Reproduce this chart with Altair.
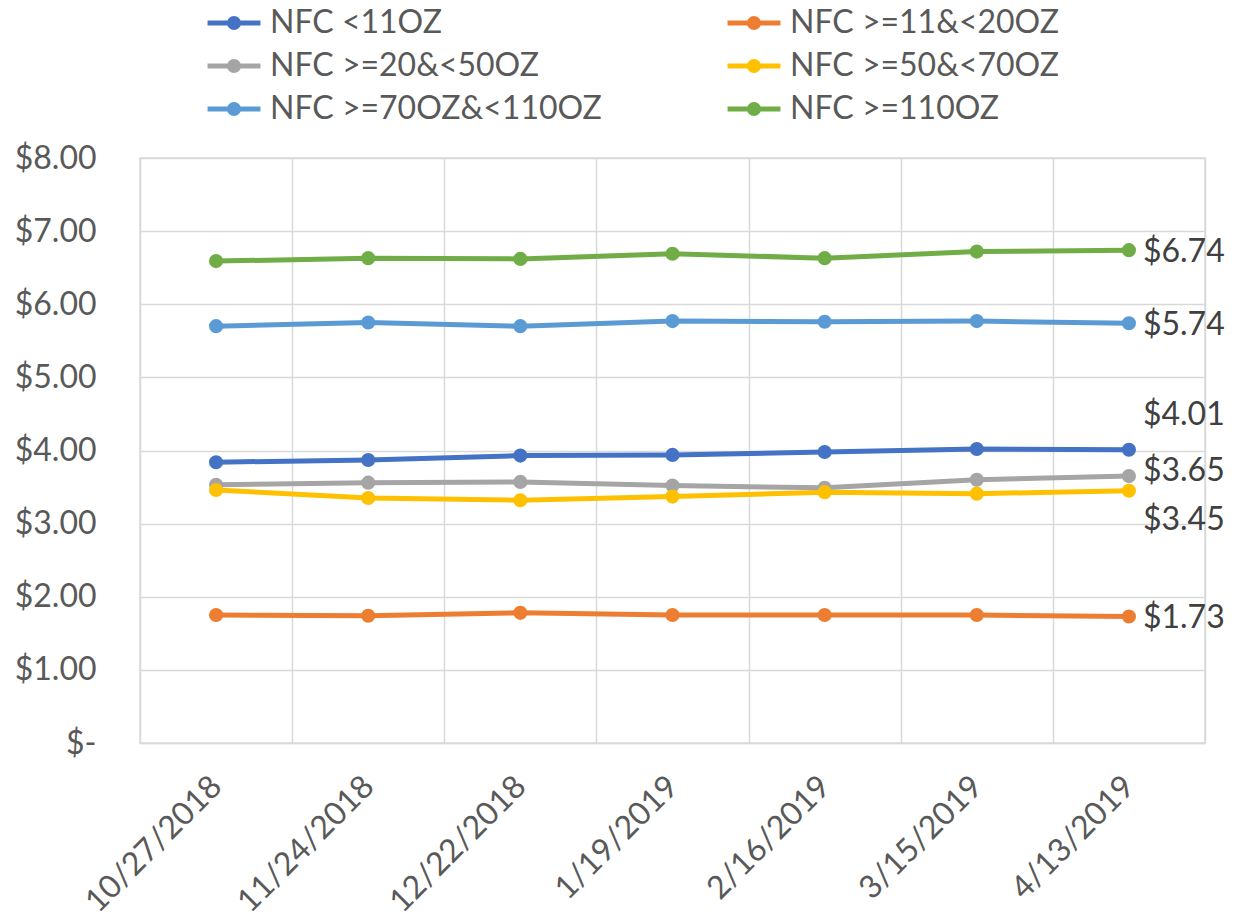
import altair as alt
import pandas as pd

dates = ["10/27/2018", "11/24/2018", "12/22/2018", "1/19/2019", "2/16/2019", "3/15/2019", "4/13/2019"]
series = ["NFC <11OZ", "NFC >=11&<20OZ", "NFC >=20&<50OZ", "NFC >=50&<70OZ", "NFC >=70OZ&<110OZ", "NFC >=110OZ"]
colors = ["#4472C4", "#ED7D31", "#A5A5A5", "#FFC000", "#5B9BD5", "#70AD47"]

nfc_lt11 = [3.84, 3.87, 3.93, 3.94, 3.98, 4.02, 4.01]
nfc_11_20 = [1.75, 1.74, 1.78, 1.75, 1.75, 1.75, 1.73]
nfc_20_50 = [3.53, 3.56, 3.57, 3.52, 3.49, 3.60, 3.65]
nfc_50_70 = [3.46, 3.35, 3.32, 3.37, 3.43, 3.41, 3.45]
nfc_70_110 = [5.70, 5.75, 5.70, 5.77, 5.76, 5.77, 5.74]
nfc_ge110 = [6.59, 6.63, 6.62, 6.69, 6.63, 6.72, 6.74]

values = [nfc_lt11, nfc_11_20, nfc_20_50, nfc_50_70, nfc_70_110, nfc_ge110]
label_pos = ["above", "right", "right_up", "below", "right", "right"]

rows = []
for s, vals, pos in zip(series, values, label_pos):
    for i, (d, v) in enumerate(zip(dates, vals)):
        rows.append({"date": d, "series": s, "price": v,
                     "last": i == len(dates) - 1, "pos": pos,
                     "lbl": "$" + format(v, ".2f")})
df = pd.DataFrame(rows)

# legend is filled column by column: reorder so it reads row by row
leg_order = [0, 2, 4, 1, 3, 5]
dom = [series[i] for i in leg_order]
rng = [colors[i] for i in leg_order]

FONT = "Lato"
sym_path = ("M-2,0H2"
            "M0.34,0A0.34,0.34,0,1,1,-0.34,0A0.34,0.34,0,1,1,0.34,0"
            "M0.1,0A0.1,0.1,0,1,1,-0.1,0A0.1,0.1,0,1,1,0.1,0")

x = alt.X("date:N", sort=dates, title=None,
          scale=alt.Scale(paddingInner=0, paddingOuter=0),
          axis=alt.Axis(labelAngle=-45, labelAlign="right", labelBaseline="middle",
                        labelPadding=38, labelFontSize=32, labelFont=FONT,
                        labelColor="#595959", ticks=False, grid=True,
                        tickBand="extent", gridColor="#D9D9D9", gridWidth=1.5,
                        domainColor="#D9D9D9", domainWidth=1.5))
y = alt.Y("price:Q", title=None,
          scale=alt.Scale(domain=[0, 8], nice=False),
          axis=alt.Axis(values=[0, 1, 2, 3, 4, 5, 6, 7, 8],
                        labelExpr="datum.value == 0 ? '$-\u00a0\u00a0' : '$' + format(datum.value, '.2f')",
                        labelFontSize=32, labelFont=FONT, labelColor="#595959",
                        labelPadding=44, ticks=False, domain=False,
                        gridColor="#D9D9D9", gridWidth=1.5))
color = alt.Color("series:N", scale=alt.Scale(domain=dom, range=rng), title=None,
                  legend=alt.Legend(orient="none", legendX=78, legendY=-151, columns=2,
                                    columnPadding=115, rowPadding=11,
                                    symbolType=sym_path, symbolSize=700,
                                    symbolStrokeWidth=5, labelOffset=20,
                                    labelFontSize=32, labelFont=FONT, labelColor="#595959",
                                    labelLimit=500))

base = alt.Chart(df).encode(x=x, y=y, color=color)
lines = base.mark_line(strokeWidth=5)
points = base.mark_point(filled=True, size=200, opacity=1)

last = base.transform_filter("datum.last")
txt = dict(align="left", baseline="middle", dx=14, fontSize=32, font=FONT, color="#404040")
t_right = last.transform_filter("datum.pos == 'right'").mark_text(dy=2, **txt).encode(
    text="lbl:N", color=alt.value("#404040"))
t_right_up = last.transform_filter("datum.pos == 'right_up'").mark_text(dy=-5, **txt).encode(
    text="lbl:N", color=alt.value("#404040"))
t_above = last.transform_filter("datum.pos == 'above'").mark_text(dy=-35, **txt).encode(
    text="lbl:N", color=alt.value("#404040"))
t_below = last.transform_filter("datum.pos == 'below'").mark_text(dy=29, **txt).encode(
    text="lbl:N", color=alt.value("#404040"))

chart = alt.layer(lines, points, t_right, t_right_up, t_above, t_below).properties(
    width=1065, height=585,
    autosize=alt.AutoSizeParams(type="none"),
    padding={"left": 140, "top": 158, "right": 30, "bottom": 178},
    background="white",
).configure_view(stroke="#D9D9D9", strokeWidth=1.5)

chart.save("out.html", embed_options={"renderer": "svg", "actions": False})
